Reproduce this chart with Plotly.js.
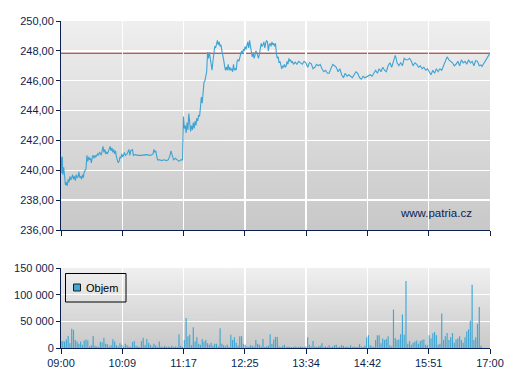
<!DOCTYPE html>
<html><head><meta charset="utf-8">
<script src="https://cdn.plot.ly/plotly-3.0.1.min.js"></script>
<style>html,body{margin:0;padding:0;background:#fff}#chart{width:507px;height:380px}</style>
</head><body><div id="chart"></div>
<script>
// ---- data (minutes after 09:00) ----
const priceMinutes = [
0,1,1.5,2,3,4,5,6,7,8,
9,10,11,12,13,14,15,16,17,18,
19,20,21,22,23,24,25,26,27,28,
29,30,31,32,33,34,35,36,37,38,
39,40,41,42,43,44,45,46,47,48,
49,50,51,52,54,55,56,57,58,59,
60,61,62,63,64,65,66,67,68,69,
70,71,72,74,76,77,78,80,81,83,
86,90,95,100,103,104,105,106,107,108,
110,113,115,118,120,122,123,124,125,126,
128,130,132,134,136,137,138,139,140,141,
142,143,144,145,146,147,148,149,150,151,
152,153,154,155,156,157,158,159,160,161,
162,163,164,165,166,167,168,169,170,171,
172,173,174,175,176,177,178,179,180,181,
182,183,184,185,186,187,188,189,190,191,
192,193,194,195,196,197,198,199,200,201,
202,203,204,205,206,207,208,209,210,211,
212,213,214,215,216,217,218,219,220,221,
222,223,224,225,226,227,228,229,230,231,
232,233,234,235,236,237,238,239,240,241,
242,243,244,245,246,247,248,249,250,251,
252,253,254,255,256,257,258,259,260,262,
264,266,268,270,272,274,276,278,280,282,
284,286,288,290,292,294,296,298,300,302,
304,306,308,310,312,314,316,318,320,322,
324,326,328,330,332,334,336,338,340,342,
344,346,348,350,352,354,356,358,360,362,
364,366,368,370,372,374,375,376,378,380,
382,384,386,388,390,392,394,396,398,400,
402,404,406,408,410,412,414,416,418,420,
422,424,426,428,430,432,434,436,438,440,
442,444,446,448,450,452,454,456,458,460,
462,464,466,468,470,471,480
];
const priceValues = [
240.9,239.8,240.9,239.7,240.2,239.3,239.0,239.2,238.95,239.4,
239.2,239.6,239.35,239.5,239.7,239.4,239.6,239.3,239.7,239.5,
239.55,239.9,239.5,239.6,239.4,239.7,239.5,239.9,240.0,240.1,
241.0,240.6,240.9,240.7,240.8,240.5,240.9,241.0,240.8,241.0,
240.9,241.0,241.1,241.0,241.2,241.15,241.0,241.3,241.6,241.2,
241.4,241.1,241.2,241.1,241.4,241.6,241.3,241.5,241.2,241.4,
241.1,241.3,240.9,240.7,240.5,240.6,240.9,240.8,241.1,240.9,
241.0,241.2,241.0,241.1,241.4,241.0,241.3,241.4,241.0,241.05,
241.0,241.0,241.05,241.0,241.1,241.4,241.2,241.3,241.0,240.7,
240.7,240.65,240.7,240.65,240.7,241.0,241.3,241.1,241.0,240.7,
240.8,240.7,240.6,240.7,240.7,243.6,242.8,243.0,242.5,243.2,
242.7,243.8,243.3,242.6,243.0,242.7,243.2,242.8,243.3,243.0,
243.5,243.3,243.7,243.6,244.2,244.9,244.5,245.3,245.9,246.0,
246.4,246.6,247.9,247.5,247.9,247.4,246.9,246.7,247.3,247.8,
248.3,248.2,248.5,248.7,248.4,248.6,248.3,248.4,248.0,247.5,
247.4,247.0,246.7,246.9,246.7,247.1,246.7,246.9,246.7,246.8,
246.6,247.1,246.7,246.8,246.7,247.3,247.4,247.3,247.6,247.9,
248.0,247.8,248.1,248.0,248.3,248.1,248.4,248.6,248.2,248.7,
248.3,247.8,247.6,247.9,247.5,247.7,248.0,247.9,247.6,247.5,
247.8,248.2,248.5,248.3,248.4,248.6,248.2,248.5,248.7,248.6,
248.0,248.4,248.5,248.3,248.6,248.4,248.5,248.3,248.5,247.8,
247.5,247.6,247.2,247.3,247.0,246.8,247.0,246.9,247.1,246.9,
247.0,247.3,247.1,247.5,247.3,247.4,247.2,247.3,247.1,247.25,
247.1,247.3,247.2,247.1,247.3,247.2,246.9,247.2,247.15,246.8,
246.9,247.1,247.0,247.1,246.8,246.6,246.7,246.5,246.5,246.8,
247.1,247.0,246.9,246.6,246.8,246.4,246.2,246.5,246.3,246.4,
246.3,246.2,246.4,246.6,246.5,246.2,246.1,246.3,246.2,246.25,
246.3,246.4,246.3,246.5,246.7,246.5,246.8,246.6,246.9,246.7,
246.6,247.0,247.2,246.9,247.3,247.7,247.5,247.2,247.0,247.2,
247.0,247.5,247.4,247.4,247.5,247.3,247.0,247.2,247.1,246.9,
247.0,246.8,246.9,246.7,246.8,246.6,246.4,246.7,246.5,246.8,
246.6,246.8,246.7,247.0,247.3,247.6,247.4,247.3,247.2,247.0,
247.1,247.3,247.0,247.4,247.2,247.3,247.1,247.4,247.2,247.3,
247.0,247.35,247.3,247.0,247.05,246.95,247.85
];
const previousClose = 247.84;

// volume, one bar every 2 minutes starting at 09:00
const volumeStartMinute = 0;
const volumeStepMinutes = 2;
const volumeValues = [
12800,13000,12000,16000,22400,9000,36000,34000,15000,12000,
8000,12000,6000,14000,16000,14000,3000,5000,22400,4000,
3000,2000,11500,11000,19000,8000,7000,3000,5000,16600,
12000,5000,3000,9000,6000,2000,8000,5000,3000,2000,
11000,13000,4000,3000,2000,13000,19000,5000,17000,10000,
6000,3000,8000,5000,2000,12000,3000,2000,4000,2000,
3000,2000,4000,2000,3000,2000,25600,4000,2000,15000,
56400,22000,25000,5000,39000,12000,20000,8000,6000,17000,
12000,15000,9000,6000,10000,4000,8000,8000,3000,37000,
8000,5000,3000,6000,2000,25000,15000,20000,10000,4000,
22000,22000,8000,6000,3000,2000,5000,4000,3000,15000,
8000,6000,3000,17000,2000,3000,4000,25600,8000,16000,
21000,20500,3000,2000,4000,6000,2000,3000,2000,2000,
2000,3000,2000,2000,3000,2000,2000,3000,20000,6000,
3000,13000,3000,2000,3000,4000,9000,2000,3000,2000,
5000,2000,3000,5000,6000,2000,3000,5000,4000,2000,
3000,2000,5000,2000,3000,2000,2000,7000,3000,2000,
4000,20000,24000,5000,3000,2000,15000,24000,24000,9000,
18000,15000,17000,22000,5000,3000,72000,18600,15000,16000,
26000,63000,25000,125600,8000,13000,6000,10000,12000,14000,
8000,13000,15000,16000,6000,5000,24000,18000,27500,30000,
24000,6000,8000,64700,15000,22000,28000,15000,20000,28000,
10000,16000,18000,22000,15000,10000,20000,31000,35000,51000,
118600,15000,20000,45500,77000,4000,0,0,0,0
];

const xTickMinutes = [0, 480/7, 960/7, 1440/7, 1920/7, 2400/7, 2880/7, 480];
const xTickLabels = ['09:00','10:09','11:17','12:25','13:34','14:42','15:51','17:00'];
const priceTicks = [236,238,240,242,244,246,248,250];
const priceTickLabels = ['236,00','238,00','240,00','242,00','244,00','246,00','248,00','250,00'];
const volumeTicks = [0,50000,100000,150000];
const volumeTickLabels = ['0','50 000','100 000','150 000'];
const legendLabel = 'Objem';
const watermark = 'www.patria.cz';

// ---- styling ----
const navy = '#0b1f52';
const blue = '#3ea3d3';
const font = 'Arial, "Liberation Sans", sans-serif';
const W = 507, H = 380, L = 61, R = 17, T = 21, B = 32;
const pw = W - L - R, ph = H - T - B;
const px2x = p => (p - L) / pw;
const py2y = p => (H - B - p) / ph;
const priceDom = [py2y(230), 1];
const volDom = [0, py2y(268)];

function gradient(top, bottom) {
  const c = document.createElement('canvas');
  c.width = 4; c.height = 256;
  const g = c.getContext('2d');
  const lg = g.createLinearGradient(0, 0, 0, 256);
  lg.addColorStop(0, top); lg.addColorStop(1, bottom);
  g.fillStyle = lg; g.fillRect(0, 0, 4, 256);
  return c.toDataURL();
}

const volumeMinutes = volumeValues.map((v, i) => volumeStartMinute + i * volumeStepMinutes);

const traces = [
  {type: 'scatter', mode: 'lines', x: priceMinutes, y: priceValues, xaxis: 'x', yaxis: 'y',
   line: {color: blue, width: 1.1}, hoverinfo: 'skip', showlegend: false},
  {type: 'bar', x: volumeMinutes, y: volumeValues, xaxis: 'x2', yaxis: 'y2', width: 1.3,
   marker: {color: '#42a7d4', line: {width: 0}}, name: legendLabel, showlegend: false}
];

const axisCommon = {
  showline: true, linecolor: navy, linewidth: 1, ticks: 'outside', ticklen: 5, tickwidth: 1,
  tickcolor: navy, showgrid: true, gridcolor: '#ffffff', gridwidth: 1.5, zeroline: false,
  tickfont: {family: font, size: 11, color: navy}, fixedrange: true
};

const layout = {
  width: W, height: H, margin: {l: L, r: R, t: T, b: B, pad: 0},
  paper_bgcolor: '#ffffff', plot_bgcolor: 'rgba(0,0,0,0)', showlegend: false,
  font: {family: font, size: 11, color: navy},
  xaxis: Object.assign({}, axisCommon, {anchor: 'y', domain: [0, 1], range: [0, 480],
    tickmode: 'array', tickvals: xTickMinutes, ticktext: xTickLabels, showticklabels: false}),
  yaxis: Object.assign({}, axisCommon, {anchor: 'x', domain: priceDom, range: [236, 250],
    tickmode: 'array', tickvals: priceTicks, ticktext: priceTickLabels, ticklen: 4}),
  xaxis2: Object.assign({}, axisCommon, {anchor: 'y2', domain: [0, 1], range: [0, 480],
    tickmode: 'array', tickvals: xTickMinutes, ticktext: xTickLabels}),
  yaxis2: Object.assign({}, axisCommon, {anchor: 'x2', domain: volDom, range: [0, 150000],
    tickmode: 'array', tickvals: volumeTicks, ticktext: volumeTickLabels, ticklen: 4}),
  images: [
    {source: gradient('#efefef', '#c8c8c8'), xref: 'paper', yref: 'paper', x: 0, y: 1,
     sizex: 1, sizey: 1 - priceDom[0], sizing: 'stretch', xanchor: 'left', yanchor: 'top', layer: 'below'},
    {source: gradient('#f0f0f0', '#c9c9c9'), xref: 'paper', yref: 'paper', x: 0, y: volDom[1],
     sizex: 1, sizey: volDom[1], sizing: 'stretch', xanchor: 'left', yanchor: 'top', layer: 'below'}
  ],
  shapes: [
    {type: 'line', xref: 'x', yref: 'y', x0: 0, x1: 480, y0: previousClose, y1: previousClose,
     line: {color: '#b02a2a', width: 1}, layer: 'below'},
    {type: 'rect', xref: 'paper', yref: 'paper', x0: px2x(65.5), x1: px2x(126), y0: py2y(302), y1: py2y(273.5),
     line: {color: '#000000', width: 1}, fillcolor: 'rgba(0,0,0,0)'},
    {type: 'rect', xref: 'paper', yref: 'paper', x0: px2x(73.5), x1: px2x(80.5), y0: py2y(291), y1: py2y(284),
     line: {color: '#1a1a1a', width: 1}, fillcolor: '#42a7d4'}
  ],
  annotations: [
    {text: legendLabel, xref: 'paper', yref: 'paper', x: px2x(83.5), y: py2y(287.5), xanchor: 'left',
     yanchor: 'middle', showarrow: false, font: {family: font, size: 11, color: '#000000'}},
    {text: watermark, xref: 'paper', yref: 'paper', x: px2x(474), y: py2y(213), xanchor: 'right',
     yanchor: 'middle', showarrow: false, font: {family: font, size: 11.5, color: navy}}
  ]
};

Plotly.newPlot('chart', traces, layout, {displayModeBar: false, staticPlot: true});
</script>
</body></html>
